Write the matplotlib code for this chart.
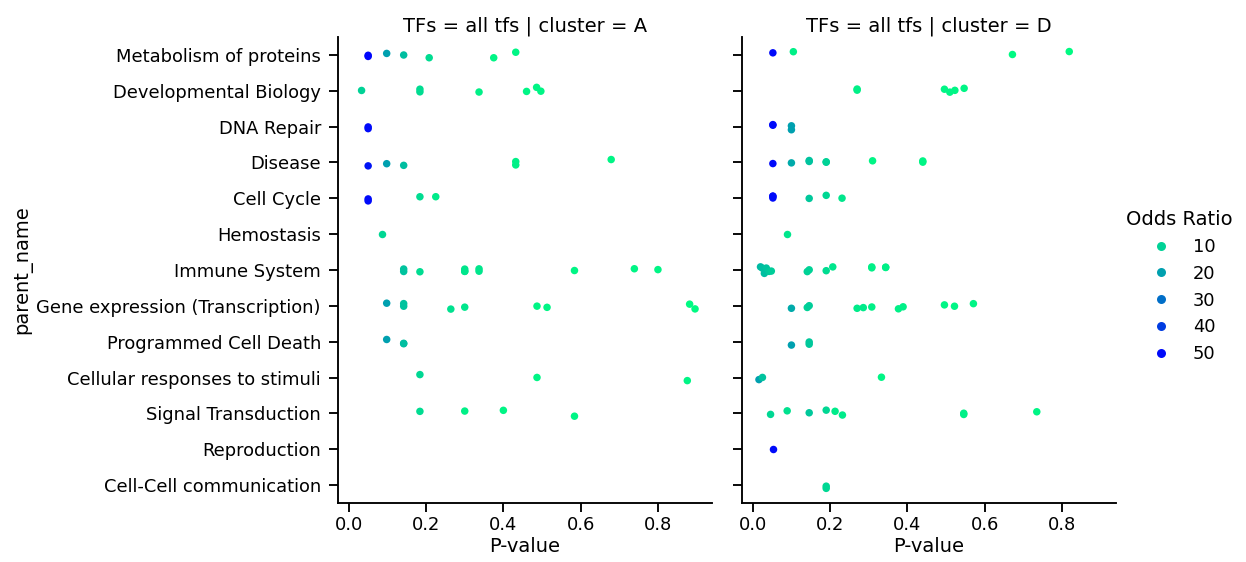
import numpy as np
import pandas as pd
import seaborn as sns
import matplotlib.pyplot as plt

# pathway categories (y axis order)
parents = ["Metabolism of proteins", "Developmental Biology", "DNA Repair", "Disease",
           "Cell Cycle", "Hemostasis", "Immune System", "Gene expression (Transcription)",
           "Programmed Cell Death", "Cellular responses to stimuli", "Signal Transduction",
           "Reproduction", "Cell-Cell communication"]

# cluster A : row index into parents, p-value, odds ratio
rows_A = [0, 0, 0, 0, 0, 0, 0,
          1, 1, 1, 1, 1, 1, 1,
          2, 2,
          3, 3, 3, 3, 3, 3,
          4, 4, 4, 4,
          5,
          6, 6, 6, 6, 6, 6, 6, 6, 6, 6, 6,
          7, 7, 7, 7, 7, 7, 7, 7, 7,
          8, 8, 8,
          9, 9, 9,
          10, 10, 10, 10]
pval_A = [0.050, 0.050, 0.098, 0.142, 0.208, 0.375, 0.432,
          0.033, 0.184, 0.184, 0.337, 0.460, 0.486, 0.497,
          0.050, 0.050,
          0.050, 0.098, 0.142, 0.432, 0.432, 0.679,
          0.050, 0.050, 0.184, 0.225,
          0.085,
          0.142, 0.142, 0.184, 0.300, 0.300, 0.300, 0.337, 0.337, 0.584, 0.739, 0.800,
          0.098, 0.142, 0.142, 0.264, 0.300, 0.487, 0.513, 0.882, 0.896,
          0.098, 0.142, 0.142,
          0.184, 0.487, 0.876,
          0.184, 0.300, 0.400, 0.584]
odds_A = [50, 51, 20, 14, 8, 3, 3,
          10, 8, 8, 4, 3, 3, 3,
          50, 50,
          48, 20, 14, 4, 4, 3,
          50, 50, 8, 5,
          9,
          13, 13, 8, 6, 6, 6, 6, 6, 3, 3, 3,
          20, 13, 13, 7, 6, 3, 3, 2, 2,
          20, 14, 14,
          9, 3, 3,
          8, 4, 3, 3]

# cluster D
rows_D = [0, 0, 0, 0,
          1, 1, 1, 1, 1, 1,
          2, 2, 2, 2,
          3, 3, 3, 3, 3, 3, 3, 3, 3,
          4, 4, 4, 4, 4, 4,
          5,
          6, 6, 6, 6, 6, 6, 6, 6, 6, 6, 6, 6, 6, 6,
          7, 7, 7, 7, 7, 7, 7, 7, 7, 7, 7,
          8, 8, 8,
          9, 9, 9,
          10, 10, 10, 10, 10, 10, 10, 10, 10,
          11,
          12, 12]
pval_D = [0.052, 0.105, 0.672, 0.819,
          0.270, 0.270, 0.496, 0.510, 0.523, 0.547,
          0.052, 0.052, 0.100, 0.100,
          0.052, 0.100, 0.146, 0.146, 0.190, 0.190, 0.310, 0.440, 0.440,
          0.052, 0.052, 0.052, 0.146, 0.190, 0.231,
          0.089,
          0.020, 0.025, 0.030, 0.035, 0.042, 0.048, 0.141, 0.146, 0.190, 0.207,
          0.308, 0.308, 0.344, 0.344,
          0.100, 0.141, 0.146, 0.270, 0.286, 0.308, 0.377, 0.389, 0.496, 0.522, 0.571,
          0.100, 0.146, 0.146,
          0.016, 0.025, 0.333,
          0.046, 0.089, 0.146, 0.190, 0.213, 0.232, 0.546, 0.546, 0.735,
          0.052,
          0.190, 0.190]
odds_D = [50, 4, 2, 2,
          4, 4, 3, 3, 3, 3,
          50, 50, 20, 20,
          50, 18, 13, 13, 10, 10, 3, 3, 3,
          50, 50, 50, 12, 9, 6,
          6,
          15, 14, 14, 13, 12, 11, 10, 10, 8, 6, 4, 4, 4, 4,
          18, 10, 11, 5, 5, 4, 4, 4, 3, 3, 3,
          20, 12, 12,
          20, 13, 3,
          9, 7, 12, 9, 5, 5, 4, 4, 3,
          50,
          9, 9]

df = pd.concat([
    pd.DataFrame({"parent_name": [parents[i] for i in rows_A], "P-value": pval_A,
                  "Odds Ratio": odds_A, "cluster": "A"}),
    pd.DataFrame({"parent_name": [parents[i] for i in rows_D], "P-value": pval_D,
                  "Odds Ratio": odds_D, "cluster": "D"}),
], ignore_index=True)
df["TFs"] = "all tfs"

sns.set_context("talk", font_scale=1.08)
plt.rcParams['font.family'] = ['DejaVu Sans']
plt.rcParams['ytick.major.pad'] = 8
np.random.seed(3)

g = sns.catplot(data=df, x="P-value", y="parent_name", hue="Odds Ratio",
                row="TFs", col="cluster", order=parents, palette="winter_r",
                hue_norm=(1, 52), kind="strip", jitter=True, size=7.5)

fig = g.figure
fig.set_size_inches(1246 / 72, 562 / 72)
fig.subplots_adjust(left=338 / 1246, right=1116 / 1246, bottom=1 - 503 / 562,
                    top=1 - 37 / 562, wspace=0.08)
g._legend.set_bbox_to_anchor((1.002, 0.49))
for h in g._legend.legend_handles:
    h.set_markersize(9)

fig.savefig("out.png", dpi=72)
